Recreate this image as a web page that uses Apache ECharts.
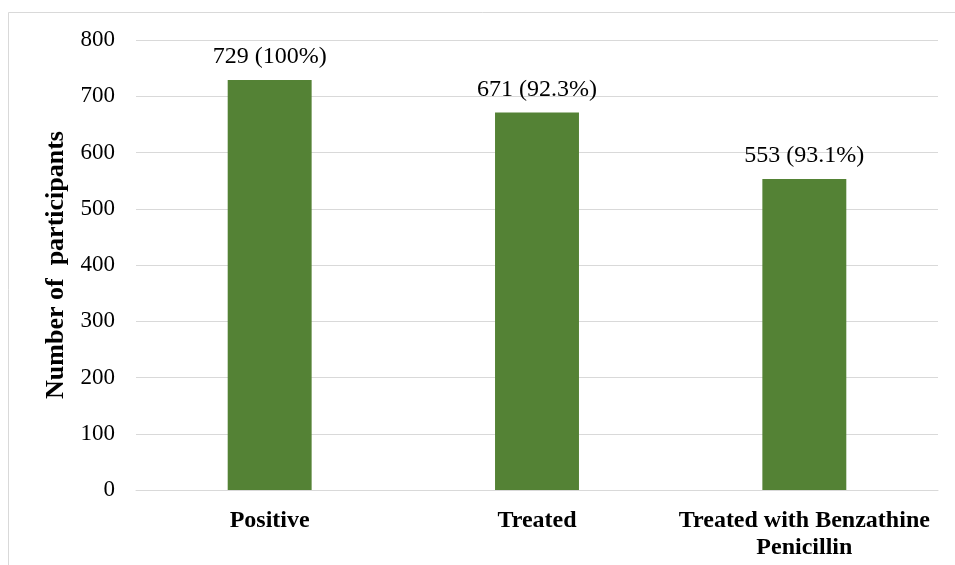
<!DOCTYPE html>
<html><head><meta charset="utf-8">
<script src="https://cdn.jsdelivr.net/npm/echarts@6/dist/echarts.min.js"></script>
<style>html,body{margin:0;padding:0;background:#fff}#c{width:955px;height:565px}</style>
</head><body><div id="c"></div>
<script>
var categories = ['Positive', 'Treated', 'Treated with Benzathine\nPenicillin'];
var values = [729, 671, 553];
var labels = ['729 (100%)', '671 (92.3%)', '553 (93.1%)'];
var yTicks = [0, 100, 200, 300, 400, 500, 600, 700, 800];

var chart = echarts.init(document.getElementById('c'), null, {renderer: 'canvas'});
chart.setOption({
  backgroundColor: '#fff',
  animation: false,
  graphic: [{
    type: 'rect', left: 6, top: 10, shape: {width: 1000, height: 600},
    style: {fill: 'none', stroke: '#d9d9d9', lineWidth: 1}, silent: true
  }],
  grid: {left: 136, right: 17, top: 40, bottom: 75},
  xAxis: {
    type: 'category', data: categories,
    axisLine: {show: true, lineStyle: {color: '#d9d9d9', width: 1}},
    axisTick: {show: false},
    axisLabel: {fontFamily: 'Liberation Serif', fontSize: 24, fontWeight: 'bold', color: '#000', margin: 17, lineHeight: 27, interval: 0}
  },
  yAxis: {
    type: 'value', min: 0, max: 800, interval: 100,
    name: 'Number of  participants', nameLocation: 'middle', nameGap: 65,
    nameTextStyle: {fontFamily: 'Liberation Serif', fontSize: 26, fontWeight: 'bold', color: '#000'},
    axisLine: {show: false}, axisTick: {show: false},
    splitLine: {lineStyle: {color: '#d9d9d9', width: 1}},
    axisLabel: {fontFamily: 'Liberation Serif', fontSize: 23, color: '#000', margin: 21,
      formatter: function (v) { return yTicks.indexOf(v) >= 0 ? String(v) : ''; }}
  },
  series: [{
    type: 'bar', data: values, barWidth: '31.4%',
    itemStyle: {color: '#548235'},
    label: {show: true, position: 'top', distance: 11, fontFamily: 'Liberation Serif', fontSize: 24, color: '#000',
      formatter: function (p) { return labels[p.dataIndex]; }}
  }]
});
</script></body></html>
